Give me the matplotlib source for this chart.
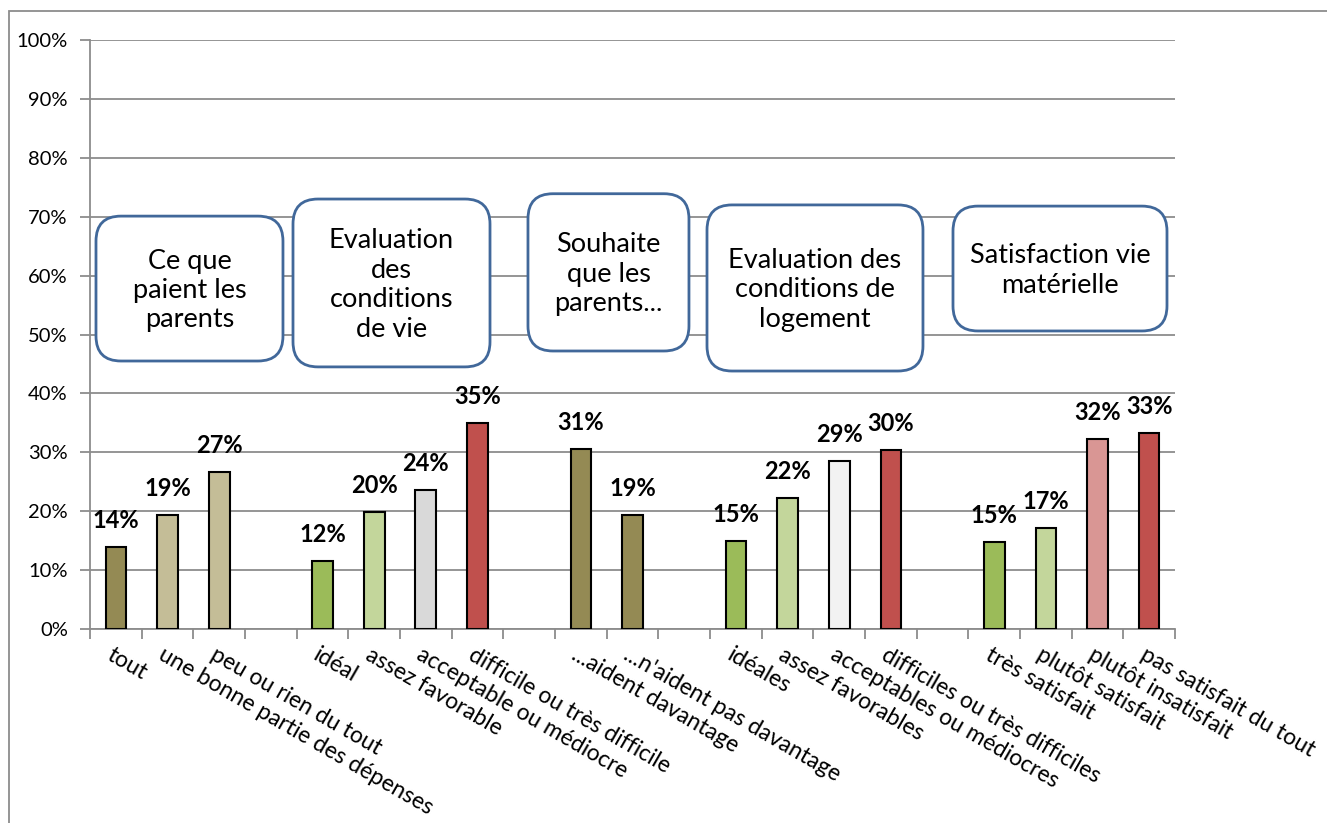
import matplotlib
matplotlib.use("Agg")
import matplotlib.pyplot as plt
from matplotlib.patches import FancyBboxPatch, Rectangle
from matplotlib.ticker import PercentFormatter

plt.rcParams['font.family'] = ['Lato', 'DejaVu Sans']

categories = ["tout", "une bonne partie des dépenses", "peu ou rien du tout", "",
              "idéal", "assez favorable", "acceptable ou médiocre", "difficile ou très difficile", "",
              "...aident davantage", "...n'aident pas davantage", "",
              "idéales", "assez favorables", "acceptables ou médiocres", "difficiles ou très difficiles", "",
              "très satisfait", "plutôt satisfait", "plutôt insatisfait", "pas satisfait du tout"]
values = [0.139, 0.193, 0.266, None,
          0.115, 0.198, 0.236, 0.350, None,
          0.306, 0.193, None,
          0.150, 0.222, 0.286, 0.304, None,
          0.148, 0.172, 0.323, 0.333]
labels = ["14%", "19%", "27%", "",
          "12%", "20%", "24%", "35%", "",
          "31%", "19%", "",
          "15%", "22%", "29%", "30%", "",
          "15%", "17%", "32%", "33%"]
colors = ["#948A54", "#C4BD97", "#C4BD97", None,
          "#9BBB59", "#C3D69B", "#D9D9D9", "#C0504D", None,
          "#948A54", "#948A54", None,
          "#9BBB59", "#C3D69B", "#F2F2F2", "#C0504D", None,
          "#9BBB59", "#C3D69B", "#D99694", "#C0504D"]
y_ticks = [0, 0.1, 0.2, 0.3, 0.4, 0.5, 0.6, 0.7, 0.8, 0.9, 1.0]

boxes = [
    ("Ce que\npaient les\nparents", (-0.384, 3.235), (0.455, 0.701)),
    ("Evaluation\ndes\nconditions\nde vie", (3.429, 7.242), (0.445, 0.730)),
    ("Souhaite\nque les\nparents...", (7.977, 11.093), (0.472, 0.739)),
    ("Evaluation des\nconditions de\nlogement", (11.442, 15.622), (0.438, 0.720)),
    ("Satisfaction vie\nmatérielle", (16.203, 20.345), (0.506, 0.718)),
]

W, H = 1327, 823
fig = plt.figure(figsize=(W / 100, H / 100), dpi=100)
ax = fig.add_axes([90 / W, 1 - 629 / H, (1175 - 90) / W, (629 - 40) / H])

# outer chart frame (extends beyond the image on right/bottom)
fig.patches.append(Rectangle((9 / W, -0.1), 1.2, 1 - 11 / H + 0.1, transform=fig.transFigure,
                             fill=False, edgecolor="#8C8C8C", linewidth=1.3))

grid_c = "#8C8C8C"
n = len(categories)
ax.set_xlim(-0.5, n - 0.5)
ax.set_ylim(0, 1.0)

for i, (v, c, lab) in enumerate(zip(values, colors, labels)):
    if v is None:
        continue
    ax.bar(i, v, width=0.4, color=c, edgecolor="black", linewidth=1.5, zorder=3)
    ax.annotate(lab, xy=(i, v), xytext=(0, 15), textcoords="offset pixels",
                ha="center", va="bottom", fontsize=17, fontweight="bold", zorder=4)

ax.set_yticks(y_ticks)
ax.yaxis.set_major_formatter(PercentFormatter(1.0, decimals=0))
ax.tick_params(axis="y", length=7, width=1.3, color=grid_c, labelsize=14.5, pad=9)
ax.yaxis.grid(True, color=grid_c, linewidth=1.3, zorder=0)
ax.set_axisbelow(True)

ax.set_xticks([i - 0.5 for i in range(n + 1)])
ax.set_xticklabels([])
ax.tick_params(axis="x", length=7, width=1.3, color=grid_c)
for i, cat in enumerate(categories):
    if cat:
        ax.annotate(cat, xy=(i, 0), xycoords=("data", "axes fraction"), xytext=(-2, -15),
                    textcoords="offset pixels", rotation=-30, rotation_mode="anchor",
                    ha="left", va="top", fontsize=16.5)

for s in ["top", "right"]:
    ax.spines[s].set_visible(False)
for s in ["left", "bottom"]:
    ax.spines[s].set_color(grid_c)
    ax.spines[s].set_linewidth(1.3)

# callout boxes
fig.canvas.draw()
inv = fig.dpi_scale_trans.inverted()
for text, (x0, x1), (y0, y1) in boxes:
    p0 = inv.transform(ax.transData.transform((x0, y0)))
    p1 = inv.transform(ax.transData.transform((x1, y1)))
    patch = FancyBboxPatch((p0[0], p0[1]), p1[0] - p0[0], p1[1] - p0[1],
                           boxstyle="round,pad=0,rounding_size=0.25",
                           transform=fig.dpi_scale_trans, facecolor="white",
                           edgecolor="#41689A", linewidth=2, zorder=5)
    fig.patches.append(patch)
    cx = (p0[0] + p1[0]) / 2
    cy = (p0[1] + p1[1]) / 2 - 0.02
    fig.text(cx, cy, text, transform=fig.dpi_scale_trans, ha="center", va="center",
             fontsize=19.5, linespacing=1.22, zorder=6)

fig.savefig("out.png", dpi=100)
